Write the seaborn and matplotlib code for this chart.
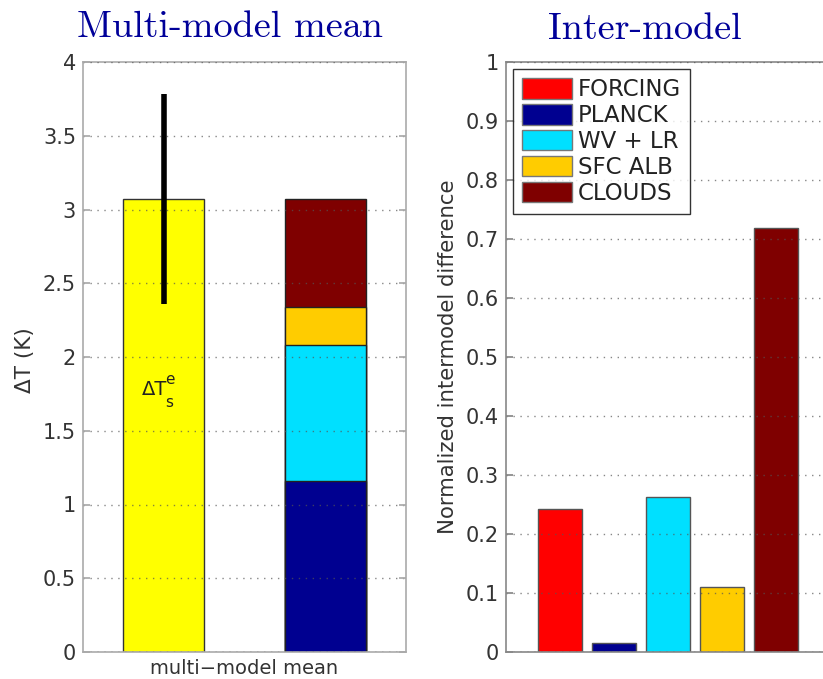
import numpy as np
import pandas as pd
import matplotlib
matplotlib.use("Agg")
import matplotlib.pyplot as plt
import seaborn as sns
from matplotlib.patches import Patch
from matplotlib.ticker import FixedLocator, FixedFormatter

# ---------------- data ----------------
total_label = "total"
stack_label = "stack"
mean_warming = 3.07          # multi-model mean ΔT (K)
mean_err = 0.71              # half-length of the black bar
components = ["PLANCK", "WV + LR", "SFC ALB", "CLOUDS"]
component_values = [1.16, 0.92, 0.26, 0.73]

categories = ["FORCING", "PLANCK", "WV + LR", "SFC ALB", "CLOUDS"]
intermodel = [0.242, 0.016, 0.263, 0.110, 0.718]

left_ticks = [0, 0.5, 1, 1.5, 2, 2.5, 3, 3.5, 4]
left_ticklabels = ["0", "0.5", "1", "1.5", "2", "2.5", "3", "3.5", "4"]
right_ticks = [0, 0.1, 0.2, 0.3, 0.4, 0.5, 0.6, 0.7, 0.8, 0.9, 1]
right_ticklabels = ["0", "0.1", "0.2", "0.3", "0.4", "0.5", "0.6", "0.7", "0.8", "0.9", "1"]

colors = {"FORCING": "#FF0000", "PLANCK": "#000090", "WV + LR": "#00E0FF",
          "SFC ALB": "#FFCC00", "CLOUDS": "#7F0000"}

sns.set_theme(style="white")
plt.rcParams["font.family"] = ["DejaVu Sans"]

W, H = 823, 679
fig = plt.figure(figsize=(W / 100, H / 100), dpi=100)

def axrect(x0, x1, ytop, ybot):
    return [x0 / W, (H - ybot) / H, (x1 - x0) / W, (ybot - ytop) / H]

axL = fig.add_axes(axrect(83, 406, 62, 652))
axR = fig.add_axes(axrect(506, 830, 62, 652))

tick_color = "#333333"
fs = 15

def style_axes(ax, spine_color):
    for s in ax.spines.values():
        s.set_color(spine_color)
        s.set_linewidth(1.2)
        s.set_visible(True)
    ax.tick_params(axis="both", direction="in", length=5, color=spine_color,
                   labelsize=fs, labelcolor=tick_color, right=True, left=True, pad=5)
    ax.yaxis.grid(True, linestyle=(0, (1, 4)), color="#555555", linewidth=1.0, alpha=0.7)
    ax.xaxis.grid(False)
    ax.set_axisbelow(False)

# ---------------- left panel ----------------
order = [total_label, stack_label]
sns.barplot(x=[total_label], y=[mean_warming], order=order, color="#FFFF00",
            width=0.5, edgecolor="#333333", linewidth=1.0, saturation=1, ax=axL)
cum = np.cumsum(component_values)
for name, c in reversed(list(zip(components, cum))):
    sns.barplot(x=[stack_label], y=[c], order=order, color=colors[name],
                width=0.5, edgecolor="#222222", linewidth=1.0, saturation=1, ax=axL)
axL.errorbar(0, mean_warming, yerr=mean_err, fmt="none", ecolor="black",
             elinewidth=4, capsize=0, zorder=5)
axL.text(-0.06, 1.78, "\u0394T", ha="center", va="center", fontsize=14, color="#222222")
axL.text(0.035, 1.85, "e", ha="center", va="center", fontsize=11, color="#222222")
axL.text(0.035, 1.69, "s", ha="center", va="center", fontsize=11, color="#222222")
axL.set_xlim(-0.5, 1.5)
axL.set_ylim(0, 4)
axL.yaxis.set_major_locator(FixedLocator(left_ticks))
axL.yaxis.set_major_formatter(FixedFormatter(left_ticklabels))
axL.set_xticks([0.5])
axL.set_xticklabels(["multi\u2212model mean"], fontsize=14)
axL.set_xlabel("")
axL.set_ylabel("\u0394T (K)", fontsize=15.5, color=tick_color)
style_axes(axL, "#aaaaaa")
axL.tick_params(axis="x", length=0, pad=5, labelsize=14)
axL.yaxis.set_label_coords(-0.149, 0.495)

# ---------------- right panel ----------------
df = pd.DataFrame({"cat": categories, "val": intermodel})
sns.barplot(data=df, x="cat", y="val", hue="cat", order=categories,
            palette=colors, width=0.8, edgecolor="#555555", linewidth=1.0,
            saturation=1, legend=False, ax=axR)
axR.set_xlim(-1, 5)
axR.set_ylim(0, 1)
axR.yaxis.set_major_locator(FixedLocator(right_ticks))
axR.yaxis.set_major_formatter(FixedFormatter(right_ticklabels))
axR.set_xticks([])
axR.set_xlabel("")
axR.set_ylabel("Normalized intermodel difference", fontsize=15.3, color=tick_color)
style_axes(axR, "#888888")
axR.yaxis.set_label_coords(-0.148, 0.5)

handles = [Patch(facecolor=colors[c], edgecolor="#777777", label=c) for c in categories]
leg = axR.legend(handles=handles, loc="upper left", bbox_to_anchor=(0.0216, 0.988),
                 fontsize=16.5, frameon=True, fancybox=False, handlelength=2.18,
                 handleheight=1.0, labelspacing=0.12, handletextpad=0.26,
                 borderpad=0.4, borderaxespad=0.0)
leg.get_frame().set_edgecolor("black")
leg.get_frame().set_linewidth(1.0)
for t in leg.get_texts():
    t.set_color("#222222")

# ---------------- titles ----------------
title_color = "#000099"
fig.text(230 / W, 1 - 37 / H, "Multi-model mean", family="cmr10", fontsize=27.5,
         color=title_color, ha="center", va="baseline")
fig.text(645 / W, 1 - 39 / H, "Inter-model", family="cmr10", fontsize=27.5,
         color=title_color, ha="center", va="baseline")

fig.savefig("out.png", dpi=100)
